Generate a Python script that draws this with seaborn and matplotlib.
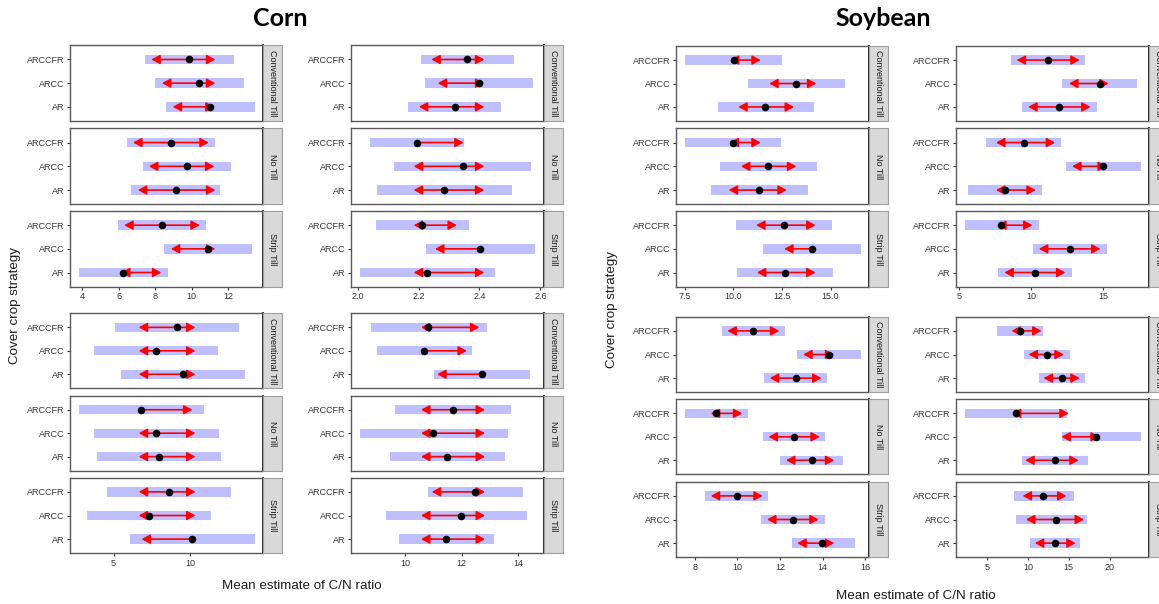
import matplotlib
matplotlib.use("Agg")
import matplotlib.pyplot as plt
import numpy as np
import pandas as pd
import seaborn as sns

# ---------------------------------------------------------------------------
# Data: estimated mean C/N ratio, confidence interval and comparison arrows.
# Order within each panel: Conventional Till, No Till, Strip Till,
# each with ARCCFR, ARCC, AR.
# ---------------------------------------------------------------------------
tillage = ["Conventional Till", "No Till", "Strip Till"]
strategies = ["ARCCFR", "ARCC", "AR"]

corn_a_est = [9.85, 10.40, 11.00, 8.85, 9.71, 9.11, 8.36, 10.91, 6.24]
corn_a_lcl = [7.45, 7.98, 8.58, 6.44, 7.31, 6.67, 5.93, 8.49, 3.80]
corn_a_ucl = [12.29, 12.84, 13.44, 11.29, 12.13, 11.53, 10.80, 13.31, 8.67]
corn_a_alo = [7.78, 8.36, 8.95, 6.78, 7.65, 7.04, 6.29, 8.85, 6.12]
corn_a_ahi = [11.29, 11.29, 11.25, 10.93, 11.24, 11.29, 10.44, 11.29, 8.33]

corn_b_est = [2.360, 2.399, 2.318, 2.195, 2.345, 2.284, 2.212, 2.403, 2.228]
corn_b_lcl = [2.209, 2.221, 2.165, 2.041, 2.121, 2.062, 2.059, 2.224, 2.007]
corn_b_ucl = [2.514, 2.577, 2.472, 2.349, 2.570, 2.508, 2.365, 2.583, 2.451]
corn_b_alo = [2.242, 2.263, 2.201, 2.195, 2.184, 2.184, 2.184, 2.254, 2.184]
corn_b_ahi = [2.416, 2.416, 2.416, 2.348, 2.416, 2.416, 2.326, 2.403, 2.416]

corn_c_est = [9.15, 7.78, 9.54, 6.83, 7.80, 7.98, 8.63, 7.33, 10.15]
corn_c_lcl = [5.09, 3.70, 5.48, 2.72, 3.74, 3.91, 4.54, 3.26, 6.07]
corn_c_ucl = [13.22, 11.87, 13.63, 10.93, 11.91, 12.04, 12.72, 11.41, 14.24]
corn_c_alo = [6.65, 6.65, 6.65, 6.83, 6.65, 6.65, 6.65, 6.65, 6.83]
corn_c_ahi = [10.37, 10.37, 10.37, 10.17, 10.37, 10.37, 10.37, 10.37, 10.15]

corn_d_est = [10.82, 10.67, 12.71, 11.68, 11.00, 11.48, 12.48, 11.98, 11.45]
corn_d_lcl = [8.80, 9.01, 11.02, 9.65, 8.39, 9.46, 10.81, 9.33, 9.79]
corn_d_ucl = [12.89, 12.35, 14.39, 13.73, 13.62, 13.53, 14.16, 14.29, 13.14]
corn_d_alo = [10.56, 10.67, 11.13, 10.56, 10.56, 10.56, 10.94, 10.56, 10.56]
corn_d_ahi = [12.62, 12.18, 12.71, 12.82, 12.82, 12.82, 12.82, 12.82, 12.82]

soy_a_est = [10.01, 13.24, 11.65, 9.96, 11.79, 11.33, 12.59, 14.03, 12.64]
soy_a_lcl = [7.53, 10.76, 9.19, 7.50, 9.31, 8.83, 10.11, 11.53, 10.17]
soy_a_ucl = [12.52, 15.74, 14.16, 12.44, 14.28, 13.82, 15.09, 16.54, 15.14]
soy_a_alo = [9.82, 11.84, 10.25, 9.80, 10.39, 9.76, 11.17, 12.61, 11.21]
soy_a_ahi = [11.41, 14.27, 13.12, 11.41, 13.24, 12.75, 14.23, 14.03, 14.23]

soy_b_est = [11.14, 14.75, 11.95, 9.46, 15.00, 8.16, 7.91, 12.67, 10.24]
soy_b_lcl = [8.56, 12.16, 9.36, 6.87, 12.41, 5.58, 5.37, 10.08, 7.70]
soy_b_ucl = [13.73, 17.36, 14.54, 12.04, 17.59, 10.75, 10.52, 15.23, 12.85]
soy_b_alo = [8.97, 12.62, 9.78, 7.54, 12.83, 7.54, 7.62, 10.52, 8.12]
soy_b_ahi = [13.36, 15.37, 14.12, 11.65, 15.25, 10.31, 10.08, 14.81, 12.37]

soy_c_est = [10.74, 14.29, 12.73, 9.00, 12.67, 13.49, 9.96, 12.61, 13.99]
soy_c_lcl = [9.26, 12.82, 11.25, 7.53, 11.18, 12.02, 8.48, 11.13, 12.54]
soy_c_ucl = [12.23, 15.78, 14.21, 10.49, 14.13, 14.97, 11.46, 14.09, 15.50]
soy_c_alo = [9.53, 13.09, 11.52, 8.75, 11.46, 12.28, 8.75, 11.39, 12.81]
soy_c_ahi = [11.97, 14.55, 13.95, 10.23, 13.87, 14.55, 11.19, 13.82, 14.55]

soy_d_est = [9.02, 12.28, 14.19, 8.54, 18.37, 13.29, 11.91, 13.41, 13.29]
soy_d_lcl = [6.26, 9.47, 11.34, 2.28, 14.15, 9.27, 8.25, 8.50, 10.20]
soy_d_ucl = [11.79, 15.12, 17.03, 14.84, 23.78, 17.40, 15.65, 17.20, 16.42]
soy_d_alo = [8.00, 10.08, 11.91, 8.05, 14.10, 9.67, 9.35, 9.76, 10.85]
soy_d_ahi = [11.67, 14.39, 16.34, 15.00, 18.80, 16.22, 14.72, 16.87, 15.85]

# x-axis ticks for each panel
corn_a_ticks = [4, 6, 8, 10, 12]
corn_b_ticks = [2.0, 2.2, 2.4, 2.6]
corn_c_ticks = [5, 10]
corn_d_ticks = [10, 12, 14]
soy_a_ticks = [7.5, 10.0, 12.5, 15.0]
soy_b_ticks = [5, 10, 15]
soy_c_ticks = [8, 10, 12, 14, 16]
soy_d_ticks = [5, 10, 15, 20]

corn_a_ticklabels = ["4", "6", "8", "10", "12"]
corn_b_ticklabels = ["2.0", "2.2", "2.4", "2.6"]
corn_c_ticklabels = ["5", "10"]
corn_d_ticklabels = ["10", "12", "14"]
soy_a_ticklabels = ["7.5", "10.0", "12.5", "15.0"]
soy_b_ticklabels = ["5", "10", "15"]
soy_c_ticklabels = ["8", "10", "12", "14", "16"]
soy_d_ticklabels = ["5", "10", "15", "20"]

# ---------------------------------------------------------------------------
sns.set_theme(style="white")
plt.rcParams["font.family"] = ["Liberation Sans", "DejaVu Sans"]

W, H = 1159, 604
fig = plt.figure(figsize=(W / 100, H / 100), dpi=100)
fig.patch.set_facecolor("white")

BAR_COLOR = "#BFBFFF"
ARROW_COLOR = "#FF0000"
TEXT_DARK = "#333333"
STRIP_W = 19


def add_px_axes(x0, y0, x1, y1):
    return fig.add_axes([x0 / W, 1 - y1 / H, (x1 - x0) / W, (y1 - y0) / H])


def draw_panel(x0, x1, rows, est, lcl, ucl, alo, ahi, ticks, ticklabels, xlim_pad=None):
    est, lcl, ucl = np.asarray(est), np.asarray(lcl), np.asarray(ucl)
    alo, ahi = np.asarray(alo), np.asarray(ahi)
    lo, hi = lcl.min(), ucl.max()
    span = hi - lo
    xlim = (lo - 0.05 * span, hi + 0.05 * span)
    if xlim_pad is not None:
        xlim = (xlim[0], hi + xlim_pad * span)
    positions = [3, 2, 1]
    for f, (y0, y1) in enumerate(rows):
        ax = add_px_axes(x0, y0, x1, y1)
        ax.set_facecolor("white")
        idx = slice(3 * f, 3 * f + 3)
        df = pd.DataFrame({
            "strategy": strategies,
            "pos": positions,
            "est": est[idx],
            "lcl": lcl[idx],
            "ucl": ucl[idx],
            "alo": alo[idx],
            "ahi": ahi[idx],
        })
        # confidence interval bars
        ax.barh(df["pos"], df["ucl"] - df["lcl"], left=df["lcl"], height=0.40,
                color=BAR_COLOR, edgecolor="none", zorder=1)
        # comparison arrows
        for _, r in df.iterrows():
            for end in (r["alo"], r["ahi"]):
                if abs(end - r["est"]) > 1e-9:
                    ax.annotate("", xy=(end, r["pos"]), xytext=(r["est"], r["pos"]),
                                arrowprops=dict(arrowstyle="-|>,head_length=0.5,head_width=0.27",
                                                color=ARROW_COLOR, lw=1.2,
                                                shrinkA=0, shrinkB=0,
                                                mutation_scale=10),
                                zorder=2)
        # estimates
        sns.scatterplot(data=df, x="est", y="pos", color="black", s=30,
                        linewidth=0, ax=ax, legend=False, zorder=4)
        ax.set_xlabel("")
        ax.set_ylabel("")
        ax.set_xlim(*xlim)
        ax.set_ylim(0.4, 3.6)
        ax.set_yticks(positions)
        ax.set_yticklabels(strategies)
        ax.grid(False)
        ax.tick_params(axis="y", length=2.5, width=0.8, color=TEXT_DARK,
                       labelsize=6.5, labelcolor=TEXT_DARK, pad=1.5, left=True)
        if f == 2:
            ax.set_xticks(ticks)
            ax.set_xticklabels(ticklabels)
            ax.tick_params(axis="x", length=2.5, width=0.8, color=TEXT_DARK,
                           labelsize=6.5, labelcolor=TEXT_DARK, pad=1.5, bottom=True)
        else:
            ax.set_xticks(ticks)
            ax.tick_params(axis="x", length=0, labelbottom=False)
        for side, sp in ax.spines.items():
            sp.set_visible(True)
            sp.set_color("#5a5a5a")
            sp.set_linewidth(1.0)
        ax.spines["right"].set_color("#2a2a2a")
        ax.spines["right"].set_linewidth(1.4)
        # facet strip
        sax = add_px_axes(x1, y0, x1 + STRIP_W, y1)
        sax.set_facecolor("#D9D9D9")
        sax.set_xticks([])
        sax.set_yticks([])
        for sp in sax.spines.values():
            sp.set_visible(True)
            sp.set_color("#A0A0A0")
            sp.set_linewidth(0.8)
        sax.text(0.5, 0.5, tillage[f], rotation=270, ha="center", va="center",
                 fontsize=6.5, color="#1A1A1A", transform=sax.transAxes)


corn_top = [(45.3, 121.0), (128.3, 204.3), (211.0, 286.7)]
corn_bot = [(313.3, 388.3), (395.7, 470.7), (477.7, 553.3)]
soy_top = [(46.0, 121.0), (128.3, 204.3), (211.0, 286.7)]
soy_bot = [(316.7, 392.3), (399.3, 474.3), (481.7, 557.3)]

draw_panel(70, 263.3, corn_top, corn_a_est, corn_a_lcl, corn_a_ucl, corn_a_alo, corn_a_ahi,
           corn_a_ticks, corn_a_ticklabels)
draw_panel(351, 544, corn_top, corn_b_est, corn_b_lcl, corn_b_ucl, corn_b_alo, corn_b_ahi,
           corn_b_ticks, corn_b_ticklabels)
draw_panel(70, 263.3, corn_bot, corn_c_est, corn_c_lcl, corn_c_ucl, corn_c_alo, corn_c_ahi,
           corn_c_ticks, corn_c_ticklabels)
draw_panel(351, 544, corn_bot, corn_d_est, corn_d_lcl, corn_d_ucl, corn_d_alo, corn_d_ahi,
           corn_d_ticks, corn_d_ticklabels, xlim_pad=0.085)
draw_panel(676, 869.3, soy_top, soy_a_est, soy_a_lcl, soy_a_ucl, soy_a_alo, soy_a_ahi,
           soy_a_ticks, soy_a_ticklabels)
draw_panel(956, 1149.3, soy_top, soy_b_est, soy_b_lcl, soy_b_ucl, soy_b_alo, soy_b_ahi,
           soy_b_ticks, soy_b_ticklabels)
draw_panel(676, 869.3, soy_bot, soy_c_est, soy_c_lcl, soy_c_ucl, soy_c_alo, soy_c_ahi,
           soy_c_ticks, soy_c_ticklabels)
draw_panel(956, 1149.3, soy_bot, soy_d_est, soy_d_lcl, soy_d_ucl, soy_d_alo, soy_d_ahi,
           soy_d_ticks, soy_d_ticklabels)

# titles and axis labels
title_font = dict(family=["Lato", "DejaVu Sans"], weight="bold", fontsize=18, color="black")
fig.text(280 / W, 1 - 18 / H, "Corn", ha="center", va="center", **title_font)
fig.text(883 / W, 1 - 18 / H, "Soybean", ha="center", va="center", **title_font)

label_font = dict(fontsize=9.6, color="#1A1A1A")
fig.text(15 / W, 1 - 306 / H, "Cover crop strategy", rotation=90, ha="center", va="center", **label_font)
fig.text(612 / W, 1 - 310 / H, "Cover crop strategy", rotation=90, ha="center", va="center", **label_font)
fig.text(302 / W, 1 - 586 / H, "Mean estimate of C/N ratio", ha="center", va="center", **label_font)
fig.text(916 / W, 1 - 596 / H, "Mean estimate of C/N ratio", ha="center", va="center", **label_font)

fig.savefig("out.png", dpi=100, facecolor="white")
